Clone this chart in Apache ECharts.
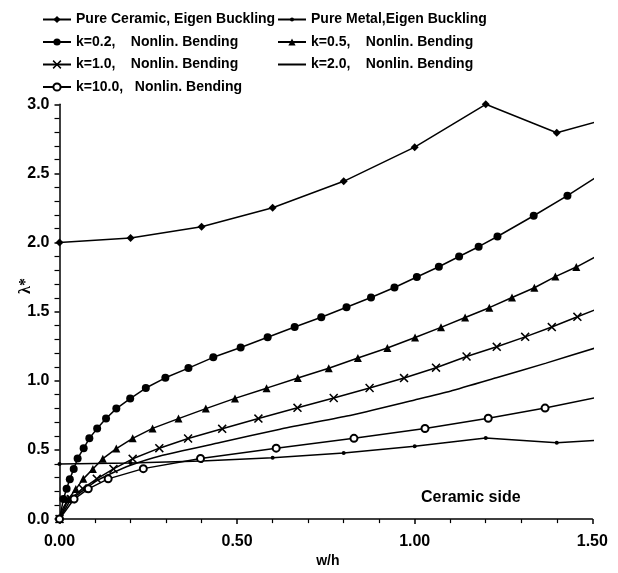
<!DOCTYPE html>
<html><head><meta charset="utf-8">
<script src="https://cdn.jsdelivr.net/npm/echarts@6/dist/echarts.min.js"></script>
<style>html,body{margin:0;padding:0;background:#fff}#c{width:618px;height:573px}</style>
</head><body><div id="c"></div>
<script>
// ---- data ----
const ceramicX = [0, 0.2, 0.4, 0.6, 0.8, 1.0, 1.2, 1.4, 1.51];
const ceramicY = [2.0, 2.033, 2.114, 2.252, 2.443, 2.69, 3.0, 2.794, 2.872];

const metalX = [0, 0.2, 0.4, 0.6, 0.8, 1.0, 1.2, 1.4, 1.51];
const metalY = [0.398, 0.405, 0.42, 0.444, 0.478, 0.527, 0.586, 0.553, 0.570];

const k02X = [0, 0.011, 0.020, 0.029, 0.040, 0.051, 0.068, 0.084, 0.106, 0.131, 0.160, 0.199, 0.243, 0.298, 0.363, 0.433, 0.510, 0.586, 0.662, 0.737, 0.808, 0.877, 0.943, 1.006, 1.068, 1.125, 1.180, 1.233, 1.335, 1.430, 1.51];
const k02Y = [0, 0.145, 0.219, 0.289, 0.363, 0.439, 0.512, 0.584, 0.655, 0.728, 0.799, 0.872, 0.948, 1.022, 1.092, 1.170, 1.241, 1.315, 1.389, 1.460, 1.532, 1.603, 1.675, 1.751, 1.825, 1.899, 1.970, 2.044, 2.194, 2.339, 2.471];

const k05X = [0, 0.025, 0.046, 0.067, 0.094, 0.122, 0.160, 0.206, 0.262, 0.335, 0.412, 0.494, 0.583, 0.671, 0.758, 0.840, 0.923, 1.001, 1.074, 1.142, 1.210, 1.274, 1.337, 1.396, 1.455, 1.51];
const k05Y = [0, 0.145, 0.217, 0.291, 0.363, 0.437, 0.510, 0.584, 0.656, 0.727, 0.799, 0.873, 0.947, 1.021, 1.091, 1.165, 1.237, 1.313, 1.387, 1.458, 1.529, 1.603, 1.673, 1.754, 1.823, 1.899];

const k10X = [0, 0.032, 0.065, 0.105, 0.152, 0.206, 0.281, 0.362, 0.458, 0.560, 0.670, 0.772, 0.873, 0.970, 1.060, 1.146, 1.231, 1.311, 1.386, 1.458, 1.51];
const k10Y = [0, 0.145, 0.221, 0.291, 0.363, 0.436, 0.513, 0.583, 0.653, 0.727, 0.805, 0.876, 0.948, 1.020, 1.095, 1.176, 1.246, 1.318, 1.389, 1.463, 1.516];

const k20X = [0, 0.005, 0.02, 0.05, 0.1, 0.15, 0.2, 0.283, 0.452, 0.621, 0.809, 1.0, 1.1, 1.23, 1.37, 1.51];
const k20Y = [0, 0.05, 0.12, 0.175, 0.27, 0.335, 0.39, 0.457, 0.554, 0.65, 0.745, 0.862, 0.925, 1.022, 1.128, 1.239];

const k100X = [0, 0.041, 0.081, 0.137, 0.236, 0.397, 0.610, 0.829, 1.029, 1.207, 1.367, 1.51];
const k100Y = [0, 0.145, 0.219, 0.291, 0.365, 0.439, 0.513, 0.584, 0.655, 0.729, 0.803, 0.879];

const xTicks = [0, 0.5, 1.0, 1.5];
const yTicks = [0, 0.5, 1.0, 1.5, 2.0, 2.5, 3.0];

const names = [
  'Pure Ceramic, Eigen Buckling',
  'Pure Metal,Eigen Buckling',
  'k=0.2,    Nonlin. Bending',
  'k=0.5,    Nonlin. Bending',
  'k=1.0,    Nonlin. Bending',
  'k=2.0,    Nonlin. Bending',
  'k=10.0,   Nonlin. Bending'
];

// ---- build ----
const FONT = '"Liberation Sans", Arial, sans-serif';
function pts(xs, ys) {
  return xs.map((x, i) => {
    const it = { value: [x, ys[i]] };
    if (i === xs.length - 1) it.symbol = 'none';
    return it;
  });
}
const CROSS = 'path://M0,1.2L1.2,0L5,3.8L8.8,0L10,1.2L6.2,5L10,8.8L8.8,10L5,6.2L1.2,10L0,8.8L3.8,5Z';
function ser(name, data, symbol, size, extra) {
  return Object.assign({
    name, type: 'line', data, symbol, symbolSize: size, clip: false,
    lineStyle: { color: '#000', width: 1.5 },
    itemStyle: { color: '#000', borderColor: '#000', borderWidth: 0 },
    emphasis: { disabled: true }, animation: false
  }, extra || {});
}
const series = [
  ser(names[5], pts(k20X, k20Y), 'none', 0, { smooth: 0.2 }),
  ser(names[1], pts(metalX, metalY), 'circle', 4),
  ser(names[0], pts(ceramicX, ceramicY), 'diamond', 8),
  ser(names[2], pts(k02X, k02Y), 'circle', 8),
  ser(names[3], pts(k05X, k05Y), 'triangle', 8),
  ser(names[4], pts(k10X, k10Y), CROSS, 9),
  ser(names[6], pts(k100X, k100Y), 'emptyCircle', 7, {
    itemStyle: { color: '#000', borderColor: '#000', borderWidth: 1.5 }
  })
];

// one legend component per entry, so each icon gets its own marker size
const colLeft = [42, 277];
const rowMid = [19.5, 42, 64.5, 87];
const legendLayout = [
  { i: 0, col: 0, row: 0, h: 9 },
  { i: 2, col: 0, row: 1, h: 9 },
  { i: 4, col: 0, row: 2, h: 11 },
  { i: 6, col: 0, row: 3, h: 9 },
  { i: 1, col: 1, row: 0, h: 5 },
  { i: 3, col: 1, row: 1, h: 9 },
  { i: 5, col: 1, row: 2, h: 9, hide: true }
];
const legendText = { fontSize: 14, fontWeight: 'bold', color: '#000', fontFamily: FONT, lineHeight: 14 };
const legends = legendLayout.map(L => ({
  left: colLeft[L.col], top: rowMid[L.row] - 7, orient: 'vertical',
  itemWidth: 28, itemHeight: L.h, padding: 0, selectedMode: false, textStyle: legendText,
  data: [L.hide ? { name: names[L.i], itemStyle: { color: 'rgba(0,0,0,0)', borderWidth: 0, opacity: 0 } } : names[L.i]]
}));

const chart = echarts.init(document.getElementById('c'), null, { renderer: 'canvas' });
chart.setOption({
  backgroundColor: '#fff',
  animation: false,
  grid: { left: 59.5, right: 25.7, top: 104.3, bottom: 35.3, containLabel: false },
  legend: legends,
  xAxis: {
    type: 'value', min: xTicks[0], max: xTicks[xTicks.length - 1], interval: 0.5,
    name: 'w/h', nameLocation: 'middle', nameGap: 25,
    nameTextStyle: { fontSize: 14, fontWeight: 'bold', color: '#000', fontFamily: FONT, padding: [0, 0, 0, 4] },
    axisLine: { lineStyle: { color: '#000', width: 1.5 } },
    axisTick: { length: 5, lineStyle: { color: '#000', width: 1.5 } },
    minorTick: { show: true, splitNumber: 5, length: 4, lineStyle: { color: '#000', width: 1.2 } },
    splitLine: { show: false },
    axisLabel: { formatter: v => v.toFixed(2), color: '#000', fontSize: 16, fontWeight: 'bold', fontFamily: FONT, margin: 14 }
  },
  yAxis: {
    type: 'value', min: yTicks[0], max: yTicks[yTicks.length - 1], interval: 0.5,
    axisLine: { lineStyle: { color: '#000', width: 1.5 } },
    axisTick: { length: 5, lineStyle: { color: '#000', width: 1.5 } },
    minorTick: { show: true, splitNumber: 5, length: 5, lineStyle: { color: '#000', width: 1.2 } },
    splitLine: { show: false },
    axisLabel: { formatter: v => v.toFixed(1), color: '#000', fontSize: 16, fontWeight: 'bold', fontFamily: FONT, margin: 10 }
  },
  graphic: [
    { type: 'text', left: 421, top: 490, style: { text: 'Ceramic side', font: 'bold 16px ' + FONT, fill: '#000' } },
    { type: 'text', x: 26, y: 286, rotation: Math.PI / 2,
      style: { text: 'λ*', font: 'bold 16px "Liberation Serif", serif', fill: '#000', align: 'center', verticalAlign: 'middle' } }
  ],
  series
});
</script></body></html>
